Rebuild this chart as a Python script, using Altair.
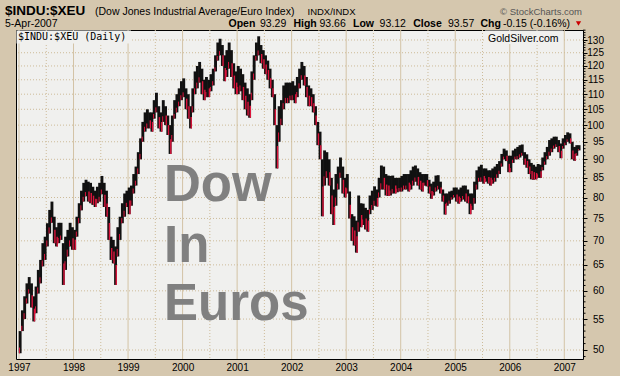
import altair as alt
import pandas as pd

# Semi-monthly (1st half, 2nd half) low/high ranges of $INDU:$XEU
r1997 = [(49.5, 53), (53, 56.5), (55, 59), (57.7, 61.4), (59.5, 62.6), (57, 61.4),
         (54.6, 59), (56, 60.8), (59.5, 64), (61.4, 66), (64.7, 69.5), (66, 70.9),
         (68.8, 73.9), (71.6, 77), (74, 79), (69.5, 75.4), (68.8, 73), (69.5, 74),
         (70.2, 74), (61.1, 69.5), (64, 70.9), (66.7, 72.4), (68.8, 74), (68.1, 73)]
r1998 = [(68.1, 72.4), (70.9, 75.4), (73.9, 78.6), (76.9, 81.7), (79, 83.7), (80.3, 84.5),
         (79, 84), (78.6, 83.7), (78.2, 82.7), (77.7, 81.7), (78.6, 82.7), (79, 83.7),
         (80.8, 85.5), (77.7, 83.7), (75.4, 81.7), (70.2, 77.7), (66, 70.9), (65.3, 70.2),
         (61.1, 68.8), (66.7, 73), (70.2, 75.4), (73.9, 78.6), (75.4, 81), (77.7, 81.7)]
r1999 = [(76, 82.5), (78, 83), (81, 86), (83, 88), (86, 92), (90, 96),
         (95, 101), (98, 104), (99, 105), (99, 104), (98, 104), (102, 108),
         (104, 110.5), (99, 106), (98, 104), (101, 108), (100, 106), (97, 103),
         (91.5, 100), (95, 103), (102, 108), (104, 110), (106, 112), (108, 114.5)]
r2000 = [(109, 115.5), (105, 112), (102, 110), (99, 106), (104, 112), (110, 118),
         (112, 120), (114, 121.5), (110, 119), (108, 115), (109, 116), (109, 115),
         (111, 117), (113, 119), (118, 124), (122, 129), (124, 130.5), (120, 128),
         (114.5, 124), (116, 126), (119, 129), (116, 126), (112, 121), (110, 118)]
r2001 = [(110, 120), (111, 119), (108, 117), (105, 114), (103, 112), (102.3, 110),
         (108, 118), (115, 124), (122, 129), (124, 131.5), (121, 128), (119, 126),
         (117, 124), (115, 122), (112, 119), (109, 115), (100, 110), (87.5, 100),
         (95, 106), (100, 108), (105, 113), (107, 114), (107, 114), (108, 114)]
r2002 = [(108, 114.5), (107, 113), (109, 116), (112, 119), (115, 121.5), (113, 120),
         (109, 116), (106, 113), (106, 112), (104, 110), (100, 106), (94, 101),
         (90, 98), (75.5, 90), (83, 92.5), (85, 92), (83, 90), (76, 85),
         (73.5, 82), (78, 86), (82, 88), (85, 90.5), (81, 88), (80, 85)]
r2003 = [(81, 86), (75, 81.5), (70, 76), (69, 75.5), (67.5, 74.5), (72, 80.5),
         (73, 78.6), (73.5, 78.5), (72.5, 77.5), (72, 77), (76, 80.5), (77, 81.7),
         (78, 82.8), (77.8, 82), (80, 85), (82, 88.3), (82, 88), (80.5, 86),
         (80.4, 85.6), (80.5, 85.5), (81, 85.6), (81, 85), (81.3, 85), (81.5, 85)]
r2004 = [(81.5, 85.5), (82, 86), (82, 86), (81.5, 86), (82, 87), (83, 88),
         (84, 88.3), (83, 87.5), (82, 86.5), (81.5, 86), (83, 86), (82.8, 86),
         (81, 84.5), (79.7, 83.5), (80.5, 84), (81.5, 85.6), (82, 85.7), (81, 84),
         (79, 82), (75.9, 81), (78, 81), (78.5, 81.5), (79.5, 81.7), (80, 82.5)]
r2005 = [(79, 82.5), (78.5, 82), (79, 82.5), (79.5, 83), (79, 83), (78.6, 82),
         (76, 81), (77, 81), (78.5, 84), (82, 87), (84, 88), (84, 88.5),
         (83.5, 87.5), (84, 87.5), (83.5, 87), (83, 87), (83.5, 87.5), (84, 88),
         (85, 88.7), (86, 89.5), (88, 91.5), (90, 93), (89.5, 92.5), (86.5, 91)]
r2006 = [(86.5, 91), (89, 92.5), (90, 93), (90, 93.5), (90.5, 94), (91, 94.2),
         (88.5, 92), (87.7, 91.4), (86, 90), (84.6, 89), (84.5, 88.5), (84.6, 88),
         (85, 88.7), (85, 88.5), (87, 90.5), (88.5, 92), (90, 93.5), (91, 95.5),
         (92, 96), (93, 96.5), (93.5, 96.5), (92, 95.5), (90.3, 94.5), (93, 96)]
r2007 = [(94, 97), (95, 97.8), (94.5, 97.5), (90, 95), (89.6, 93.5), (91, 94), (92.5, 94)]

years_data = [(1997, r1997), (1998, r1998), (1999, r1999), (2000, r2000), (2001, r2001),
              (2002, r2002), (2003, r2003), (2004, r2004), (2005, r2005), (2006, r2006),
              (2007, r2007)]

year_ticks = list(range(1997, 2008))
mid_years = [y + 0.5 for y in range(1997, 2007)]
price_ticks = list(range(50, 131, 5))
minor_ticks = [v for v in range(49, 135) if v % 5 != 0]

rows = []
prev_mid = None
for yr, ranges in years_data:
    for i, (lo, hi) in enumerate(ranges):
        t = yr + (i + 0.5) / 24.0
        mid = (lo + hi) / 2
        down = prev_mid is not None and mid < prev_mid
        rows.append({"t": t, "low": lo, "high": hi, "mid": mid,
                     "lowq": (lo * 3 + hi) / 4, "down": down})
        prev_mid = mid
df = pd.DataFrame(rows)

W, H = 567, 329
OX, OY = 16, 30
TAN = "#D5C7AE"
PLOT_BG = "#F0F0EE"
GRID = "#D3C3A5"
DOT = "#CDBB99"
RED = "#DC143C"

xs = alt.Scale(domain=[1996.945, 2007.343], nice=False, zero=False)
ys = alt.Scale(type="log", domain=[48.63, 134.07], nice=False)

one = pd.DataFrame({"v": [0]})

def txt(s, x, y, size=10.5, weight="normal", color="black", font="Liberation Sans",
        align="left", baseline="alphabetic"):
    return alt.Chart(one).mark_text(text=s, fontSize=size, fontWeight=weight, color=color,
                                    font=font, align=align, baseline=baseline).encode(
        x=alt.value(x - OX), y=alt.value(y - OY))

def box(x1, y1, x2, y2):
    return alt.Chart(one).mark_rect(color=PLOT_BG).encode(
        x=alt.value(x1 - OX), x2=alt.value(x2 - OX), y=alt.value(y1 - OY), y2=alt.value(y2 - OY))

ygrid = alt.Chart(pd.DataFrame({"y": year_ticks})).mark_rule(color=GRID, strokeWidth=1).encode(
    x=alt.X("y:Q", scale=xs))
mgrid = alt.Chart(pd.DataFrame({"y": mid_years})).mark_rule(
    color=DOT, strokeWidth=1, strokeDash=[1, 2]).encode(x=alt.X("y:Q", scale=xs))
hgrid = alt.Chart(pd.DataFrame({"p": price_ticks})).mark_rule(
    color=DOT, strokeWidth=1, strokeDash=[1, 2]).encode(y=alt.Y("p:Q", scale=ys))

bars = alt.Chart(df).mark_rule(color="#111111", strokeWidth=2.9).encode(
    x=alt.X("t:Q", scale=xs,
            axis=alt.Axis(values=year_ticks, format="d", title=None, grid=False, domain=False,
                          ticks=False, labelFontSize=10, labelFont="Liberation Sans",
                          labelColor="black", labelPadding=3, labelFlush=False)),
    y=alt.Y("low:Q", scale=ys,
            axis=alt.Axis(orient="right", values=price_ticks, title=None, grid=False,
                          domain=False, tickSize=4, tickColor="black", labelFontSize=10,
                          labelFont="Liberation Sans", labelColor="black", labelAlign="right",
                          labelPadding=16.5, labelBaseline="middle")),
    y2="high:Q")

# red accents: down periods get a red streak over their lower half, others a short one at the low
reds_down = alt.Chart(df).transform_filter("datum.down").mark_rule(
    color=RED, strokeWidth=1.4, xOffset=0.7).encode(
    x=alt.X("t:Q", scale=xs), y=alt.Y("low:Q", scale=ys), y2="mid:Q")
reds_up = alt.Chart(df).transform_filter("!datum.down").mark_rule(
    color=RED, strokeWidth=1, xOffset=-0.6).encode(
    x=alt.X("t:Q", scale=xs), y=alt.Y("low:Q", scale=ys), y2="lowq:Q")

minor = alt.Chart(pd.DataFrame({"p": minor_ticks})).mark_rule(color="black", strokeWidth=1).encode(
    y=alt.Y("p:Q", scale=ys), x=alt.value(W), x2=alt.value(W + 2.5))

big = [txt("Dow", 164, 201, size=51, weight="bold", color="#808080"),
       txt("In", 164, 262, size=51, weight="bold", color="#808080"),
       txt("Euros", 164, 320, size=51, weight="bold", color="#808080")]

header = [
    txt("$INDU:$XEU", 5, 15, size=13.5, weight="bold"),
    txt("(Dow Jones Industrial Average/Euro Index)", 95, 15, size=10.5),
    txt("INDX/INDX", 307.5, 15, size=9.5),
    txt("\u00a9 StockCharts.com", 582, 15, size=9.5, color="#555555", align="right"),
    txt("5-Apr-2007", 5, 27, size=10.5),
    txt("Open", 228.5, 27, weight="bold"), txt("93.29", 260, 27),
    txt("High", 293.4, 27, weight="bold"), txt("93.66", 319.5, 27),
    txt("Low", 353, 27, weight="bold"), txt("93.12", 379.6, 27),
    txt("Close", 413.2, 27, weight="bold"), txt("93.57", 448, 27),
    txt("Chg", 480.4, 27, weight="bold"), txt("-0.15 (-0.16%)", 503, 27),
]
tri = alt.Chart(one).mark_point(shape="triangle-down", filled=True, color="#CC0000", size=28,
                                opacity=1).encode(x=alt.value(578.5 - OX), y=alt.value(23.5 - OY))

inner = [box(16.5, 30.5, 131, 43.5), box(485, 30.5, 563, 44),
         txt("$INDU:$XEU (Daily)", 18, 39.5, size=10, font="DejaVu Sans Mono"),
         txt("GoldSilver.com", 488, 42.3, size=10.5)]

chart = alt.layer(ygrid, mgrid, hgrid, *inner, bars, reds_down, reds_up, minor, *big, *header,
                  tri).properties(
    width=W, height=H,
    padding={"left": OX, "top": OY, "right": 620 - OX - W, "bottom": 376 - OY - H},
    autosize=alt.AutoSizeParams(type="none"),
    background=TAN,
).configure_view(fill=PLOT_BG, stroke="black", strokeWidth=1)

chart.save("out.html", embed_options={"renderer": "svg", "actions": False})
